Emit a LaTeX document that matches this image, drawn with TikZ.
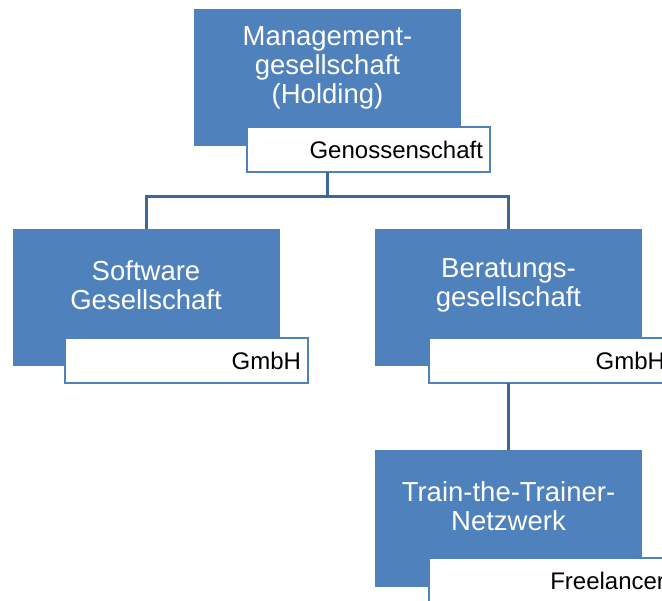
\documentclass[tikz,border=0pt]{standalone}
\usepackage{fontspec}
\setmainfont{Liberation Sans}
\begin{document}
\begin{tikzpicture}[x=1bp,y=-1bp,
  every node/.style={inner sep=0pt, outer sep=0pt},
  orgbox/.style={fill=boxblue, draw=none, minimum width=267bp, minimum height=137bp, anchor=north west},
  orgtext/.style={text=white, align=center, font=\fontsize{27.5bp}{29bp}\selectfont},
  formbox/.style={fill=white, draw=boxblue, line width=2.5bp, minimum width=243bp, minimum height=45bp,
    anchor=north west, text width=229bp, align=right, inner xsep=7bp, font=\fontsize{24bp}{26bp}\selectfont},
  link/.style={draw=linkblue, line width=3bp}
]
\definecolor{boxblue}{HTML}{4F81BD}
\definecolor{linkblue}{HTML}{3C679A}
\useasboundingbox (0,0) rectangle (662,601);
\clip (0,0) rectangle (662,601);

% Holding at the top
\node[orgbox] (mgmt) at (194,9) {};
\node[orgtext] (mgmtT) at (327.5,67.5) {Management-\\gesellschaft\\(Holding)};
\node[formbox] (mgmtF) at (247,127) {Genossenschaft};

% Software company
\node[orgbox] (sw) at (13,229) {};
\node[orgtext] (swT) at (146,285) {Software\\Gesellschaft};
\node[formbox] (swF) at (65,338) {GmbH};

% Consulting company
\node[orgbox] (bera) at (375,229) {};
\node[orgtext] (beraT) at (508.5,285) {Beratungs-\\gesellschaft};
\node[formbox] (beraF) at (429,338) {GmbH};

% Trainer network
\node[orgbox] (train) at (375,450) {};
\node[orgtext] (trainT) at (508.5,506) {Train-the-Trainer-\\Netzwerk};
\node[formbox] (trainF) at (429,558) {Freelancer};

% Connectors
\coordinate (bus) at (0,196);
\draw[link] (mgmt.south |- mgmtF.south) -- (mgmt.south |- bus) -| (sw.north);
\draw[link] (mgmt.south |- bus) -| (bera.north);
\draw[link] (bera.south |- beraF.south) -- (train.north);
\end{tikzpicture}
\end{document}
